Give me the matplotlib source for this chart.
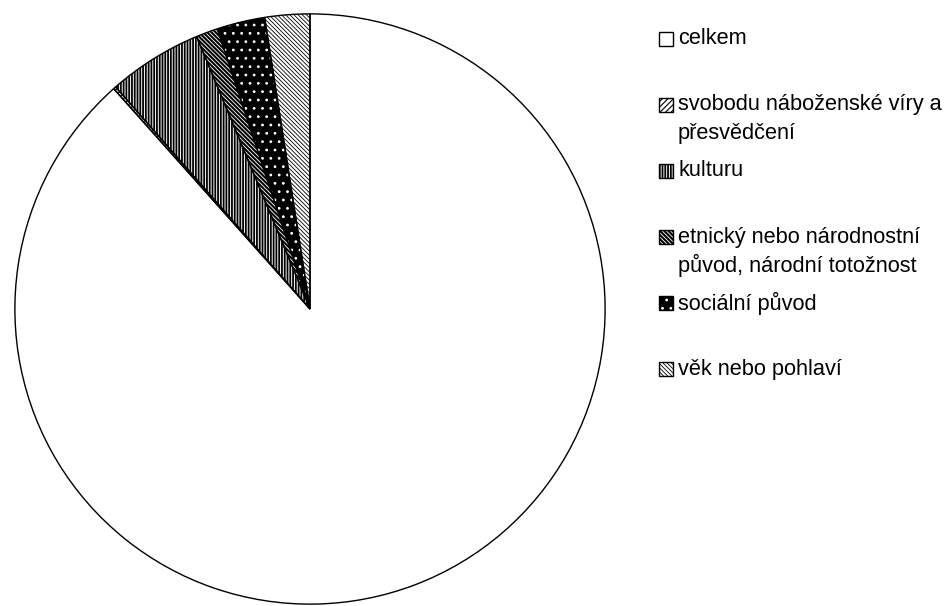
import matplotlib
matplotlib.use('Agg')
import matplotlib.pyplot as plt
from matplotlib.patches import Rectangle

labels = ['celkem',
          'svobodu náboženské víry a\npřesvědčení',
          'kulturu',
          'etnický nebo národnostní\npůvod, národní totožnost',
          'sociální původ',
          'věk nebo pohlaví']
values = [318.3, 0.5, 18.6, 4.3, 9.45, 8.85]

hatches = ['', '//////', '||||||', '\\' * 8, '..', '\\' * 8]
faces = ['white', 'white', 'white', 'white', 'black', 'white']
hatch_cols = ['black', 'black', 'black', 'black', 'white', 'black']
hatch_lws = [1.0, 0.8, 1.3, 1.5, 0.8, 0.6]

W, H = 950, 606
fig = plt.figure(figsize=(W / 100, H / 100), dpi=100)
fig.patch.set_facecolor('white')
cx, cy, r = 310, 309, 296
ax = fig.add_axes([(cx - r) / W, 1 - (cy + r) / H, 2 * r / W, 2 * r / H])


def set_hlw(p, lw):
    if hasattr(p, 'set_hatch_linewidth'):
        p.set_hatch_linewidth(lw)
    else:
        p._hatch_linewidth = lw


wedges, _ = ax.pie(values, startangle=90, counterclock=False, colors=faces,
                   wedgeprops=dict(linewidth=0))
for w, h, hc, hl in zip(wedges, hatches, hatch_cols, hatch_lws):
    w.set_hatch(h)
    w.set_edgecolor(hc)
    w.set_linewidth(0)
    set_hlw(w, hl)

outl, _ = ax.pie(values, startangle=90, counterclock=False,
                 wedgeprops=dict(fill=False, edgecolor='black', linewidth=1.0))
ax.set_xlim(-1.003, 1.003)
ax.set_ylim(-1.003, 1.003)
ax.axis('off')

# legend drawn manually
font = dict(family=['Liberation Sans', 'DejaVu Sans'], size=15.7, color='black')
y0, step, lstep = 39, 66, 28
for i, lab in enumerate(labels):
    y = y0 + i * step
    rect = Rectangle((659 / W, 1 - (y + 7) / H), 14 / W, 14 / H,
                     transform=fig.transFigure, facecolor=faces[i],
                     edgecolor=hatch_cols[i], hatch=hatches[i], linewidth=0)
    set_hlw(rect, hatch_lws[i])
    fig.add_artist(rect)
    fig.add_artist(Rectangle((659 / W, 1 - (y + 7) / H), 14 / W, 14 / H,
                             transform=fig.transFigure, fill=False,
                             edgecolor='black', linewidth=1.0))
    for j, line in enumerate(lab.split('\n')):
        fig.text(678 / W, 1 - (y + j * lstep) / H, line, ha='left',
                 va='center', **font)

fig.savefig('out.png', dpi=100)
